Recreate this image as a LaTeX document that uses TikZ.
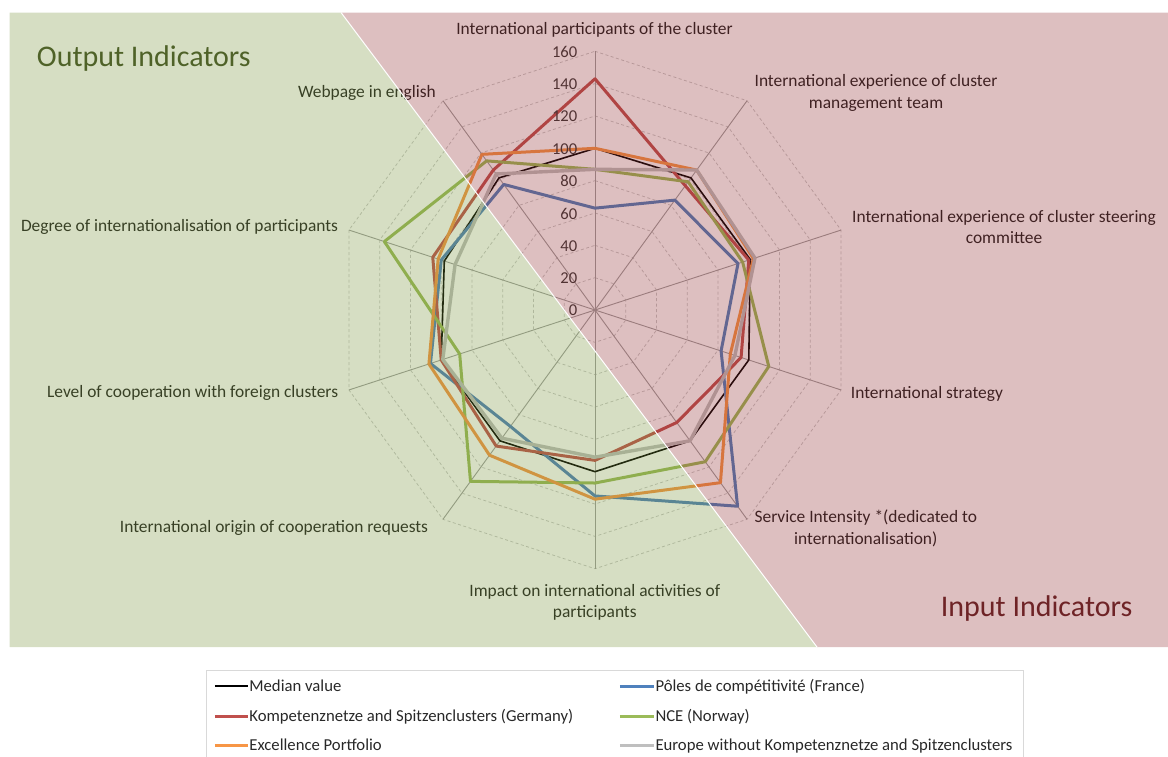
\documentclass[tikz,border=0pt]{standalone}
\usepackage{fontspec}
\setmainfont{Carlito}
\definecolor{gov}{RGB}{118,145,55}
\definecolor{pov}{RGB}{142,42,45}
\definecolor{sblue}{RGB}{79,129,189}
\definecolor{sred}{RGB}{192,80,77}
\definecolor{sgreen}{RGB}{155,187,89}
\definecolor{sorange}{RGB}{247,150,70}
\definecolor{sgray}{RGB}{191,191,191}
\definecolor{gridc}{RGB}{200,200,200}
\definecolor{axisc}{RGB}{160,160,160}
\definecolor{labc}{RGB}{30,30,30}
\definecolor{numc}{RGB}{55,55,55}
\definecolor{legc}{RGB}{40,40,40}
\definecolor{legbord}{RGB}{217,217,217}
\definecolor{outc}{RGB}{79,98,40}
\definecolor{inc}{RGB}{110,35,38}
\newcommand\radarseries[3]{%
  \foreach \v [count=\i from 0] in {#3} {\coordinate (#1\i) at (36*\i-90:\v*1.6169);}
  \draw[#2] (#10) -- (#11) -- (#12) -- (#13) -- (#14) -- (#15) -- (#16) -- (#17) -- (#18) -- (#19) -- cycle;}
\begin{document}
\begin{tikzpicture}[x=1pt,y=-1pt,
  lbl/.style={font=\fontsize{17.4}{20}\selectfont, text=labc, inner sep=0pt, anchor=base},
  numlbl/.style={font=\fontsize{16.6}{19}\selectfont, text=numc, inner sep=0pt, anchor=east},
  legtxt/.style={font=\fontsize{16.7}{19}\selectfont, text=legc, inner sep=0pt, anchor=base west},
  title/.style={font=\fontsize{30}{34}\selectfont, inner sep=0pt, anchor=base west},
  gridline/.style={gridc, line width=0.75pt, dash pattern=on 3pt off 2.5pt},
  axisline/.style={axisc, line width=0.9pt},
  medline/.style={black, line width=1.6pt, line join=round},
  serline/.style={line width=3pt, line join=round},
  legline/.style={line width=3pt},
  legbox/.style={legbord, line width=0.8pt}]
\useasboundingbox (0,0) rectangle (1168,756);
% chart
\begin{scope}[shift={(595,310)}]
  \foreach \k in {1,...,8}{
    \draw[gridline] (-90:\k*32.34) foreach \a in {1,...,9}{ -- (36*\a-90:\k*32.34)} -- cycle;
  }
  \foreach \a in {0,...,9} \draw[axisline] (0,0) -- (36*\a-90:258.7);
  \radarseries{md}{medline}{100,101,101,100,100,100,100,100,98,101}
  \radarseries{bl}{serline,sblue}{63,84,93,82,150,115,89,107,100,96}
  \radarseries{rd}{serline,sred}{143,95,100,95,86,93,104,100,105.5,107}
  \radarseries{gr}{serline,sgreen}{87,98,96,113,116,107,131,88,137,114}
  \radarseries{or}{serline,sorange}{100,107,103,88,132,117,111,108,102,119}
  \radarseries{gy}{serline,sgray,line width=3.4pt}{87,107,104,91,100,91,98,99,91,104}
\end{scope}
% value labels
\foreach \n [count=\k from 0] in {0,20,...,160}
  \node[numlbl] (val\k) at (577.5,{310.5-\k*32.34}) {\n};
% axis labels
\node[lbl] (ax0) at (594.5,34.5) {International participants of the cluster};
\node[lbl] (ax1a) at (876,86.7) {International experience of cluster};
\node[lbl] (ax1b) at (876,108.3) {management team};
\node[lbl] (ax2a) at (1004,222.3) {International experience of cluster steering};
\node[lbl] (ax2b) at (1004,243.7) {committee};
\node[lbl,anchor=base west] (ax3) at (850.7,398.3) {International strategy};
\node[lbl] (ax4a) at (865.8,522.7) {Service Intensity *(dedicated to};
\node[lbl] (ax4b) at (865.8,544.3) {internationalisation)};
\node[lbl] (ax5a) at (594.8,596) {Impact on international activities of};
\node[lbl] (ax5b) at (594.8,617.5) {participants};
\node[lbl,anchor=base east] (ax6) at (428.3,532.3) {International origin of cooperation requests};
\node[lbl,anchor=base east] (ax7) at (338.3,397.7) {Level of cooperation with foreign clusters};
\node[lbl,anchor=base east] (ax8) at (338.3,231.7) {Degree of internationalisation of participants};
\node[lbl,anchor=base east] (ax9) at (436,97.7) {Webpage in english};
% overlays
\fill[gov, fill opacity=0.3] (9.5,12.5) -- (341,12.5) -- (817,647) -- (9.5,647) -- cycle;
\fill[pov, fill opacity=0.3] (341,12.5) -- (1168,12.5) -- (1168,647) -- (817,647) -- cycle;
\draw[white, line width=1pt] (341,12.5) -- (817,647);
\node[title, text=outc] (outt) at (36.7,66.7) {Output Indicators};
\node[title, text=inc] (int) at (940.7,616) {Input Indicators};
% legend
\draw[legbox] (206,757) -- (206,670) -- (1023,670) -- (1023,757);
\coordinate (l1a) at (214.8,686); \coordinate (l1b) at (247.6,686);
\coordinate (l2a) at (214.8,716); \coordinate (l2b) at (247.6,716);
\coordinate (l3a) at (214.8,745); \coordinate (l3b) at (247.6,745);
\coordinate (r1a) at (619.8,686); \coordinate (r1b) at (653.7,686);
\coordinate (r2a) at (619.8,716); \coordinate (r2b) at (653.7,716);
\coordinate (r3a) at (619.8,745); \coordinate (r3b) at (653.7,745);
\draw[black, line width=1.6pt] (l1a) -- (l1b);
\draw[legline, sred] (l2a) -- (l2b);
\draw[legline, sorange] (l3a) -- (l3b);
\draw[legline, sblue] (r1a) -- (r1b);
\draw[legline, sgreen] (r2a) -- (r2b);
\draw[legline, sgray] (r3a) -- (r3b);
\node[legtxt] (t1) at (249.2,691.7) {Median value};
\node[legtxt] (t2) at (249.2,721.7) {Kompetenznetze and Spitzenclusters (Germany)};
\node[legtxt] (t3) at (249.2,750.5) {Excellence Portfolio};
\node[legtxt] (t4) at (655.3,691.7) {Pôles de compétitivité (France)};
\node[legtxt] (t5) at (655.3,721.7) {NCE (Norway)};
\node[legtxt] (t6) at (655.3,750.5) {Europe without Kompetenznetze and Spitzenclusters};
\end{tikzpicture}
\end{document}
